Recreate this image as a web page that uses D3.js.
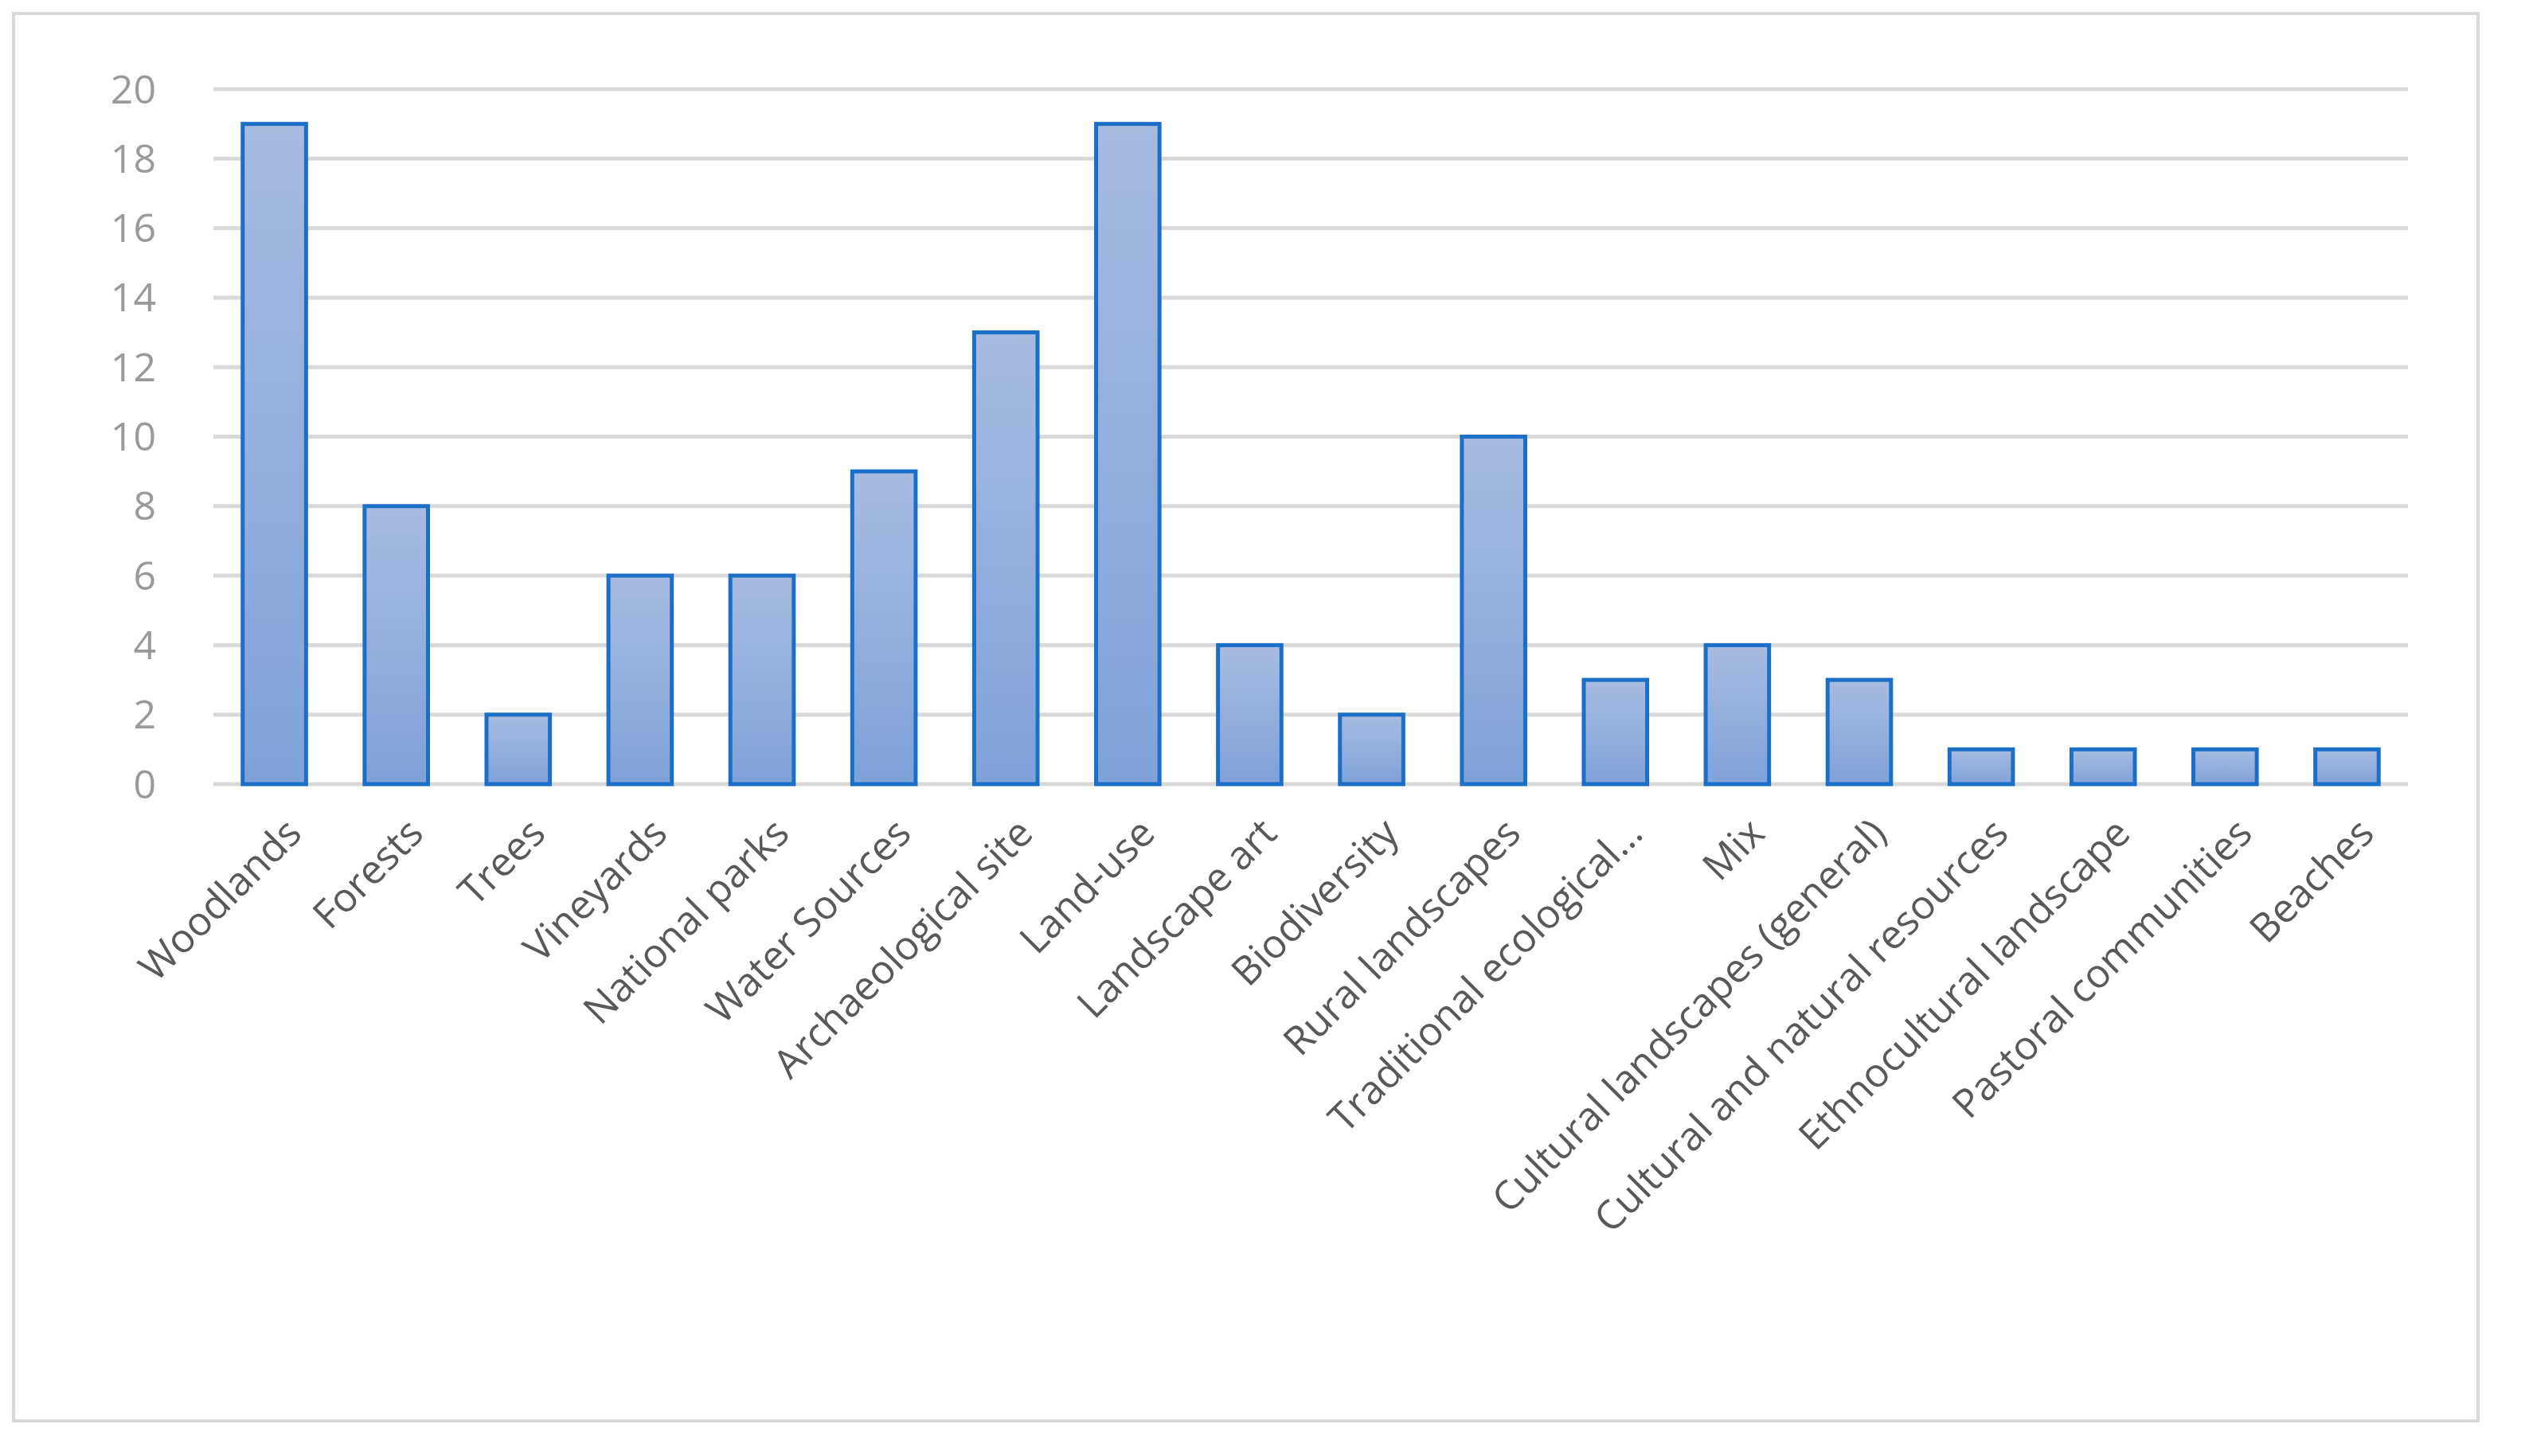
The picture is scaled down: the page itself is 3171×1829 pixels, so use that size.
<!DOCTYPE html>
<html><head><meta charset="utf-8">
<script src="https://cdn.jsdelivr.net/npm/d3@7"></script>
<style>body{margin:0;background:#fff}</style>
</head><body>
<svg id="c" width="3171" height="1829"></svg>
<script>
const categories = ["Woodlands","Forests","Trees","Vineyards","National parks","Water Sources",
  "Archaeological site","Land-use","Landscape art","Biodiversity","Rural landscapes",
  "Traditional ecological…","Mix","Cultural landscapes (general)","Cultural and natural resources",
  "Ethnocultural landscape","Pastoral communities","Beaches"];
const values = [19,8,2,6,6,9,13,19,4,2,10,3,4,3,1,1,1,1];
const yTicks = [0,2,4,6,8,10,12,14,16,18,20];

const svg = d3.select("#c");
const plotLeft = 268, plotRight = 3024, plotTop = 112, plotBottom = 985;

svg.append("rect").attr("x",17).attr("y",17).attr("width",3095).attr("height",1768)
  .attr("fill","#fff").attr("stroke","#d9d9d9").attr("stroke-width",4);

const grad = svg.append("defs").append("linearGradient").attr("id","g")
  .attr("x1",0).attr("y1",0).attr("x2",0).attr("y2",1);
grad.append("stop").attr("offset","0%").attr("stop-color","#a8bbe1");
grad.append("stop").attr("offset","100%").attr("stop-color","#7fa2d9");

const x = d3.scaleBand().domain(categories).range([plotLeft,plotRight]).paddingInner(0.48).paddingOuter(0.24);
const y = d3.scaleLinear().domain([0,20]).range([plotBottom,plotTop]);

svg.append("g").selectAll("line").data(yTicks).join("line")
  .attr("x1",plotLeft).attr("x2",plotRight).attr("y1",d=>y(d)).attr("y2",d=>y(d))
  .attr("stroke","#d9d9d9").attr("stroke-width",5);

svg.append("g").selectAll("text").data(yTicks).join("text")
  .attr("x",196).attr("y",d=>y(d)).attr("dy","0.35em").attr("text-anchor","end")
  .attr("font-family","Open Sans, Liberation Sans, sans-serif").attr("font-size",50)
  .attr("fill","#9a9a9a").text(d=>d);

svg.append("g").selectAll("rect").data(values).join("rect")
  .attr("x",(d,i)=>x(categories[i])).attr("width",x.bandwidth())
  .attr("y",d=>y(d)).attr("height",d=>y(0)-y(d))
  .attr("fill","url(#g)").attr("stroke","#1c6fc6").attr("stroke-width",5);

svg.append("g").selectAll("text").data(categories).join("text")
  .attr("transform",d=>`translate(${x(d)+x.bandwidth()/2+12},${plotBottom+40}) rotate(-45)`)
  .attr("text-anchor","end").attr("dy","0.7em")
  .attr("font-family","Open Sans, Liberation Sans, sans-serif").attr("font-size",50)
  .attr("fill","#595959").text(d=>d);
</script>
</body></html>
